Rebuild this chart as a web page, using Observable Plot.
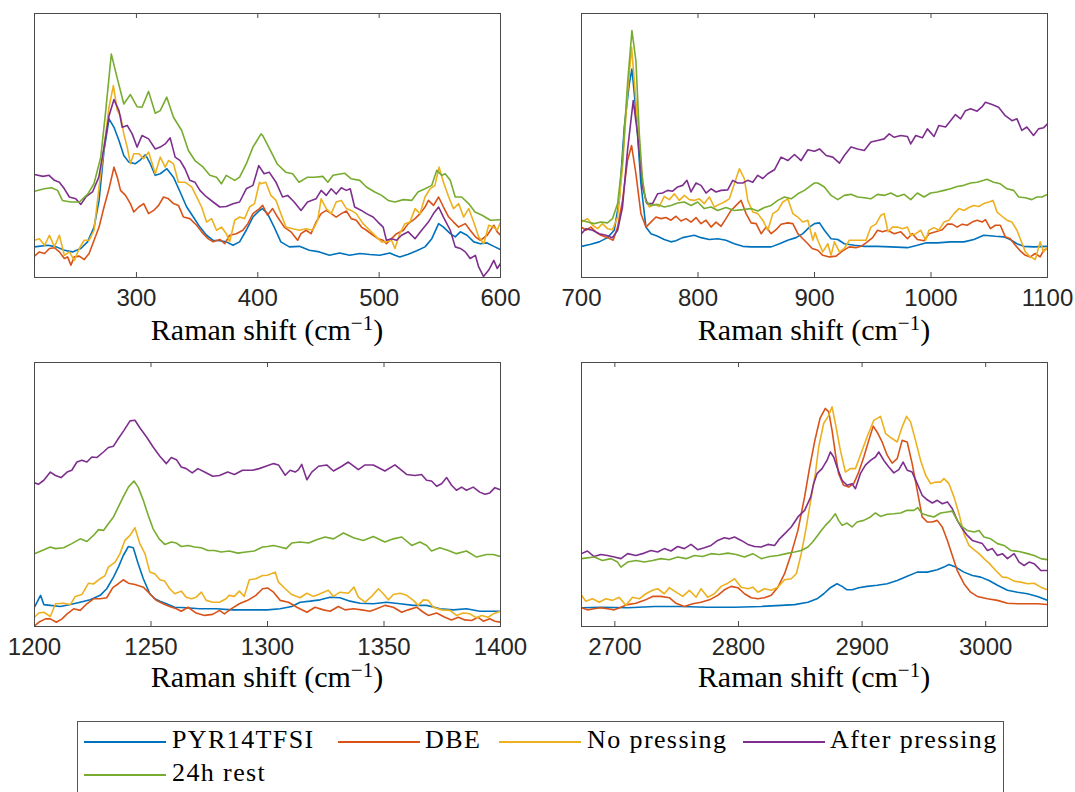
<!DOCTYPE html>
<html>
<head>
<meta charset="utf-8">
<script src="https://cdn.jsdelivr.net/npm/d3@7"></script>
<script src="https://cdn.jsdelivr.net/npm/@observablehq/plot@0.6"></script>
<style>
  html, body { margin: 0; padding: 0; background: #fff; overflow: hidden; }
  #fig { position: relative; width: 1075px; height: 792px; }
  .xtitle { position: absolute; width: 466px; text-align: center; font-family: "Liberation Serif", "Times New Roman", serif;
            font-size: 30px; line-height: 24px; color: #000; white-space: nowrap; }
  .xtitle sup { font-size: 0.7em; line-height: 0; vertical-align: baseline; position: relative; top: -0.48em; }
  #legend { position: absolute; left: 77px; top: 721px; width: 927px; height: 90px;
            border: 1px solid #555; box-sizing: border-box; background: #fff; }
  .swatch { position: absolute; height: 2px; width: 82px; }
  .ltext { position: absolute; font-family: "Liberation Serif", "Times New Roman", serif; font-size: 26px; line-height: 26px;
           letter-spacing: 1.4px; color: #000; white-space: nowrap; }
</style>
</head>
<body>
<div id="fig"></div>
<script>
// Series shared by all four spectral windows (drawing order = stacking order)
const seriesNames = ["PYR14TFSI", "DBE", "No pressing", "After pressing", "24h rest"];
const seriesColors = ["#0072BD", "#D95319", "#EDB120", "#7E2F8E", "#77AC30"];
const axisTitle = "Raman shift (cm<sup>\u22121</sup>)";

// ---- Window 1: 216–600 cm-1, [shift, relative intensity] ----
const w1Domain = [216, 600];
const w1Ticks = [300, 400, 500, 600];
const w1Pyr = [[216,11.6],[227,12.2],[234,11.6],[240.6,10.3],[247.4,9.7],[254.2,11],[259.7,13.5],[265.1,19.1],[269.2,29.2],[273.3,48.1],[277.4,60.1],[281.5,56.9],[285.6,51.9],[289.6,46.2],[293.7,43.7],[299.2,43.1],[303.3,44.6],[307.4,46.5],[311.4,43.1],[315.5,38.7],[319.6,39.3],[325.1,41.2],[330.5,38],[336,32.4],[341.4,26.7],[346.9,22.9],[352.3,19.1],[357.8,16],[363.2,14.1],[368.7,13.9],[374.1,13.5],[379.6,12.2],[385,13.5],[390.5,17.9],[396,22.9],[401.4,25.4],[403.9,26.1],[408,24.2],[413.5,19.1],[419,13.5],[426,11.6],[434.3,11.8],[442.5,10.3],[450.8,9.7],[459,8.4],[467.4,9.3],[475.7,8.4],[484,9.1],[492.3,8.7],[500.5,8.4],[508.8,9.3],[513,8.4],[517,7.8],[524,8.8],[531,10.1],[537.8,11.6],[543.4,14.7],[549,20.4],[553,19.1],[558.6,16.6],[562.7,15.4],[566.9,17.3],[572.4,16],[578,13.5],[583.4,12.8],[589,13.1],[594.5,11.8],[600,10.6]];
const w1Dbe = [[216,8.1],[220,9.7],[224.3,9.1],[228.3,11],[232.4,11.3],[236.5,9.7],[240.6,7.2],[243.3,7.8],[246,4.7],[248.8,7.8],[252.9,8.1],[257,6.8],[261,9.1],[265.1,14.1],[269.2,19.1],[273.3,26.7],[277.4,33.6],[281.5,41.8],[284.2,38],[286.9,33],[291,31.1],[295,28],[297.8,24.8],[301.9,26.7],[306,28],[310,24.2],[314.2,25.4],[318.3,27.3],[322.3,30.5],[326.4,29.8],[330.5,28],[334.6,27.3],[338.7,22.9],[344,22.3],[349.6,19.8],[355,16.6],[359,14.7],[363.2,13.5],[368.7,14.4],[372.8,12.8],[376.8,16],[382.3,16.6],[387.7,17.9],[391.8,20.4],[396,24.2],[401.4,26.1],[404,27.3],[408,23.6],[412.2,26.1],[416.3,22.9],[421.8,19.1],[427.3,17.3],[432.8,14.1],[435.6,16.6],[439.8,17.9],[443.9,16.6],[448,21],[452.2,24.2],[456.4,25.4],[460.5,24.2],[464.6,22.9],[468.8,24.2],[473,25.2],[477,22.3],[481.2,21.7],[485.4,19.1],[489.5,17.9],[495,16],[499.2,14.7],[503.3,14.1],[506,12.8],[510.2,14.7],[514.4,16.6],[520,17.9],[524,20.4],[529.6,22.3],[533.7,24.2],[537.8,26.7],[540.6,29.2],[544.8,27.3],[549,30.5],[553,26.7],[557.3,22.9],[561.3,21],[565.5,19.1],[571,20.4],[575,17.9],[579.3,15.4],[583.4,14.1],[589,16],[594.5,19.8],[597.3,17.3],[600,16]];
const w1NoPress = [[216,14.1],[220,14.7],[224.3,12.2],[228.3,16],[232.4,11.6],[236.5,16],[240.6,8.4],[244.7,9.7],[248.8,6.5],[252.9,11],[257,14.1],[261,14.1],[265.1,17.9],[269.2,34.3],[273.3,49.4],[277.4,64.5],[281,72.7],[284.2,63.2],[286.9,61.3],[289.6,54.4],[292.4,49.4],[295,43.1],[297.8,46.9],[301.9,46.9],[306,45],[310,47.5],[315.5,39.3],[319.6,45.6],[323.7,41.8],[326.4,44.3],[330.5,43.1],[334.6,36.1],[340,36.1],[345.5,34.3],[349.6,30.5],[353.7,26.7],[357.8,21],[361.9,22.3],[366,17.9],[370,19.1],[374.1,16.6],[376.8,13.5],[381,21.7],[385,22.9],[389.1,22.3],[393.2,26.7],[397.3,28],[401.4,36.1],[402.5,35.5],[406.6,36.1],[410.8,31.1],[415,29.2],[419,24.2],[423.2,19.1],[428.7,18.5],[434.3,17.9],[439.8,18.5],[445.3,17.9],[449.4,21.7],[452.2,29.8],[456.4,26.1],[460.5,24.2],[464.6,28.6],[468.8,29.2],[473,26.1],[477,25.4],[481.2,24.2],[486.7,20.4],[492.3,17.9],[497.8,15.4],[502,13.5],[506,13.5],[510.2,14.1],[513,11],[517,16.6],[521.3,20.4],[525.4,21],[529.6,26.1],[533.7,24.2],[537.8,30.5],[542,33.6],[546,34.9],[549.4,41.8],[553,36.1],[557.3,30.5],[561.3,26.1],[565.5,28],[569.6,22.9],[573.8,26.1],[577.9,21],[582,15.4],[586.2,12.8],[590.3,19.8],[594.5,19.1],[597.3,17.9],[600,21]];
const w1After = [[216,39],[223,38.3],[228,38.7],[232.4,36.8],[236.5,36.1],[240.6,33.6],[244.7,30.5],[250,29.8],[254.2,27.7],[258.3,30.5],[263.8,32.4],[269,38],[273.3,49.4],[277.4,61.3],[281.5,67.4],[285.6,63.2],[288.3,56.9],[292.4,57.6],[296.5,54.4],[300.5,49.4],[304.6,53.8],[310,52.5],[315.5,48.7],[319.6,49.4],[323.7,50.6],[327.8,52.9],[331.9,45.6],[336,44.3],[340,41.2],[344,36.8],[348.2,36.1],[352.3,33],[357.8,30.5],[363.2,28.6],[368.7,26.7],[374,26.9],[379.6,27.9],[385,28.6],[390.5,33.6],[396,34.9],[400.8,42.4],[405.2,39.3],[409.4,39.9],[415,36.1],[420.4,30.5],[424.6,31.1],[430,28.6],[435.6,25.4],[441,28.6],[448,29.8],[452.2,33],[456.4,31.1],[460.5,33.6],[464.6,31.6],[468.8,34],[473,33],[476.2,33.6],[479.8,26.7],[485.4,25.4],[489.5,24.2],[495,22.9],[499,21],[503.3,19.1],[506,14.1],[510.2,14.7],[514.4,14.1],[518.5,16],[524,17.3],[529.6,14.7],[535,17.9],[540.6,21],[544.8,24.2],[549,26.7],[553,22.9],[558.6,17.9],[562.7,11.6],[566.9,11],[571,9.7],[575,7.2],[579.3,8.4],[582,4],[586,0.4],[590.3,2.8],[594.5,6.5],[597.3,3.4],[600,5.3]];
const w1Rest = [[216,32.7],[224,33.6],[230,34],[235,33],[239,29.2],[246,28.6],[253,28.6],[260,31.7],[265,35.5],[270.6,45.6],[274.7,63.2],[279.3,84.6],[284,75.8],[289.6,65.7],[295,69.3],[300.5,64.7],[304.6,64.5],[310,70.5],[315.5,62.2],[319.6,63.2],[325,68.3],[330.5,60.7],[337.3,55.7],[342.8,48.1],[348.2,44.3],[355,41.8],[360.5,38.7],[366,38],[370,35.5],[374,38.7],[381,36.8],[385,38],[390.5,43],[396,49.4],[402.7,54.4],[404,53.8],[409,49.4],[416,43],[423,39.9],[428.7,39.3],[434,36.1],[441,38],[446.7,38],[453.6,38.3],[457.7,36.1],[462,38.7],[471.5,39.5],[477,37.4],[484,36.8],[489.5,34.3],[496.4,32.4],[502,31.1],[507.5,29.2],[513,28.6],[520,29.5],[526.8,29.2],[532,32.4],[537.8,33.6],[543.4,34.9],[547.5,40.6],[551.7,38.7],[554.4,39.3],[558.6,36.8],[562.7,30.5],[568,30.5],[573.7,28],[579,24.8],[584.8,23.6],[591.7,21.7],[600,21.9]];

// ---- Window 2: 700–1100 cm-1 ----
const w2Domain = [700, 1100];
const w2Ticks = [700, 800, 900, 1000, 1100];
const w2Pyr = [[700,11.8],[708,12.6],[715.2,13.5],[722.3,15.1],[728.1,17.9],[732.4,29.2],[736.7,56.9],[741,73.3],[743.3,79],[746.7,63.2],[751,35.5],[755.3,19.1],[759.6,16.6],[765.3,15.6],[771,14.4],[776.8,13.5],[781,13.9],[786.8,15.1],[792.6,15.6],[796.8,16],[802.6,15.1],[809.7,14.4],[816.9,14.7],[824,14.1],[831.2,12.8],[838.4,11.8],[845.6,11.6],[854.2,11.6],[862.8,11.6],[870,12.8],[877,14.1],[884.2,15.1],[890,16.6],[895.7,19.1],[900,20.4],[904.3,20.7],[908.5,17.9],[914.2,14.7],[920,14.4],[925.6,12.8],[934.2,12.2],[942.7,11.8],[954.1,11.8],[965.5,11.6],[979.8,11.3],[988.3,12.2],[995.4,13.1],[1005.4,13.1],[1016.8,13.5],[1028.2,13.5],[1036.8,14.4],[1045.3,16],[1055.3,15.6],[1062.4,15.4],[1068,14.4],[1073.8,12.8],[1079.5,11.8],[1088,11.6],[1100,11.8]];
const w2Dbe = [[700,19.1],[703.7,17.9],[708,19.1],[712.3,17.3],[716.6,16],[722.3,15.1],[727.2,14.1],[731,19.1],[735.2,29.2],[739.5,44.3],[743,50],[746.7,39.3],[751,24.2],[755.3,19.1],[759.6,21],[763.9,22.9],[768.2,22.3],[772.5,22.7],[776.8,21.7],[781.1,23.2],[785.4,21.4],[789.7,22.3],[794,21],[798.3,22.7],[802.6,20.4],[806.9,21.7],[811.2,19.1],[815.5,21],[819.8,19.4],[824,22.3],[828.4,25.4],[832.7,27.3],[837,29.2],[841.3,24.2],[845.6,20.7],[849.9,20.4],[854.2,16.6],[858.5,19.1],[862.8,16.6],[867,18.1],[871.3,20.2],[877,20.7],[881.4,20.4],[885.7,16.6],[890,14.7],[894.3,12.8],[898,11],[902.8,10.3],[907.1,8.4],[912.8,7.8],[918.5,8.1],[924.2,10.1],[929.9,11.6],[935.6,11.3],[939.9,11.8],[944.2,13.1],[949.9,15.1],[954.1,17.9],[958.4,17.3],[962.7,17.9],[968.4,16.6],[974.1,17.3],[979.8,14.7],[984,16.6],[988.3,14.4],[994,13.9],[998.3,16.6],[1004,17.3],[1009.7,18.1],[1014,20.2],[1018.2,20.2],[1022.5,19.1],[1026.8,20.2],[1031,19.8],[1035.3,21],[1039.6,21.7],[1043.9,21],[1046.7,21.9],[1051,18.5],[1055.3,19.8],[1059.5,19.8],[1063.8,15.4],[1068,14.7],[1072.4,12.2],[1076.6,10.1],[1081,8.4],[1085.2,7.8],[1089.5,9.1],[1093.7,7.8],[1096.6,10.3],[1100,11]];
const w2NoPress = [[700,21],[705.2,22.3],[709.5,19.8],[713.8,18.5],[718,20.4],[722.3,18.5],[726.6,18.1],[731,22.9],[735.2,41.8],[739,67],[743,87.2],[746.7,67],[750.4,44.3],[754.4,30.5],[758.2,26.7],[762.5,27.7],[766.8,26.9],[771,30.7],[775.4,29.5],[779.7,31.7],[784,29.2],[788.3,31.1],[792.6,29.5],[796.8,29.2],[801.1,29.8],[805.4,28],[809.7,30.5],[814,26.7],[818.3,27.7],[822.6,28.6],[826.9,29.8],[831.2,35.5],[835.5,41.2],[839.8,37.4],[842.7,29.2],[847,24.8],[851.3,24.2],[855.6,21.7],[859.9,17.9],[864.2,24.2],[868.5,25.4],[872.8,28.6],[877.1,29.8],[881.4,24.2],[885.7,22.9],[890,21],[894.3,21.7],[898.6,14.1],[900.5,17],[902.8,14.1],[907.1,9.7],[911.4,12.8],[914.2,8.4],[917.1,13.5],[921.4,9.7],[925.6,11],[929.9,14.1],[934.2,14.1],[939.9,14.1],[944.2,14.1],[948.4,19.1],[952.7,20.2],[957,23.6],[959.8,24.2],[963.2,17.3],[967,19.1],[971.2,19.1],[975.5,18.5],[979.8,19.1],[982.6,16],[986.9,16.6],[991.2,17.9],[995.4,14.1],[998.3,17.9],[1002.6,18.9],[1006.8,17.9],[1011.1,21],[1015.4,21.7],[1019.7,24.2],[1024,26.1],[1028.2,25.4],[1032.5,26.5],[1036.8,27.3],[1041,26.9],[1045.3,28],[1049.6,28.6],[1053.3,29.2],[1056.7,24.8],[1061,23.2],[1065.2,21.7],[1069.5,21],[1073.8,17.9],[1076.6,14.7],[1081,9.7],[1085.2,7.8],[1089.5,6.8],[1093.7,13.5],[1096.6,9.7],[1100,11.6]];
const w2After = [[700,16.6],[703.7,18.5],[709.5,17.9],[715.2,16.6],[720.9,16],[726.6,15.1],[731,17.9],[735.2,26.7],[739.5,48.1],[744.4,67],[748.1,54.4],[752.4,34.3],[756.2,28],[761,28],[765.3,31.7],[769.6,32],[773.9,33],[778.2,32.7],[782.5,34.3],[786.8,34.9],[790.5,36.8],[794,32.4],[798.3,35.8],[802.6,34.9],[806.9,32],[811.2,33.6],[815.5,32.4],[819.8,33],[825.5,33.2],[829.8,36.8],[834.1,35.8],[838.4,35.8],[842.7,36.8],[847,36.1],[851.3,38.7],[855.6,37.5],[859.9,39.3],[865.6,40.8],[871.3,45.6],[877.1,44.3],[882.8,46.6],[888.5,44.3],[894.3,48.4],[900,47.8],[904.3,48.7],[910,46.2],[915.7,45.6],[921.4,43.3],[925.6,46.2],[931.3,49.4],[937,48.7],[942.7,48.1],[948.4,51.3],[954.1,51.9],[959.8,52.5],[964.1,54.4],[968.4,53.1],[974,53.8],[979.8,53.4],[982.6,50.6],[986.9,53.8],[992.6,52.9],[996.9,56.3],[1002.6,53.4],[1006.8,57.6],[1012.5,57],[1016.8,59.4],[1021,61.7],[1025.4,60.1],[1029.6,63.2],[1034,63.9],[1039.6,63],[1043.9,64.7],[1046.7,66.4],[1052.4,65.5],[1058,64.5],[1063.8,61.3],[1069.5,59.4],[1073.8,60.1],[1078,55.7],[1082.3,57],[1088,53.8],[1092.3,56.3],[1096.6,56.7],[1100,58.2]];
const w2Rest = [[700,21.7],[705.2,21],[710.9,20.4],[716.6,21],[722.3,20.7],[726.6,22.3],[731,28],[735.2,44.3],[739.5,73.3],[743.3,93.5],[746.7,82.1],[749.6,54.4],[752.4,36.8],[755.3,28.6],[759.6,27.3],[765.3,27.7],[771,26.7],[776.8,27.3],[782.5,28.2],[788.3,28.6],[794,27.3],[799.7,28.6],[805.4,26.1],[811.2,26.7],[816.9,25.4],[824,26.5],[831.2,25.4],[838.4,25.7],[845.6,26.1],[851.3,25.2],[857,26.5],[862.8,27.3],[868.5,29.2],[874.2,30.5],[880,29.8],[885.7,31.7],[891.4,33],[897.1,34.9],[900,35.8],[902.8,35.8],[908.5,34.3],[914.2,31.1],[920,29.5],[925.6,31.1],[931.3,31.5],[937,30.5],[942.7,30.2],[948.4,29.8],[954.1,31.5],[959.8,31.1],[965.5,32],[971.2,30.7],[977,31.5],[982.6,29.5],[988.3,32],[994,30.5],[999.7,32],[1005.4,32.4],[1011.1,33],[1016.8,33.6],[1022.5,34.5],[1028.2,34.9],[1034,35.8],[1039.6,36.1],[1045.3,36.8],[1048.1,37.2],[1053.8,36.1],[1059.5,35.5],[1065.2,33.6],[1071,33],[1075.2,30.5],[1081,30.2],[1086.6,29.5],[1090.9,30.5],[1095.2,30.5],[1100,31.5]];

// ---- Window 3: 1200–1400 cm-1 ----
const w3Domain = [1200, 1400];
const w3Ticks = [1200, 1250, 1300, 1350, 1400];
const w3Pyr = [[1200,7.3],[1201.1,9.2],[1202.6,11.8],[1204,8.3],[1206.8,8],[1211.1,7.6],[1215.4,8.3],[1219.6,9.2],[1223.9,10.1],[1228.2,11.8],[1231,14.3],[1233.9,18.7],[1236,22.5],[1238.1,26.9],[1240.3,30.3],[1242.4,29.8],[1244.5,23.8],[1246.7,18.1],[1249.5,12.4],[1251.6,10.5],[1253.8,9.6],[1256.6,8.6],[1260.2,7.3],[1265.1,7.1],[1270.8,6.7],[1278,6.7],[1285,6.3],[1292.2,6.3],[1300,6.3],[1305.4,6.7],[1310.4,7.6],[1314,9.2],[1318.3,9.6],[1322.6,10.1],[1326.9,11.1],[1331.1,10.9],[1335.4,9.6],[1339.7,8.8],[1345.4,8.6],[1351.1,9.2],[1356.9,8.6],[1362.6,8],[1368.3,8],[1374,6.7],[1379.7,6.3],[1385.4,6.7],[1391.1,5.8],[1396.9,5.8],[1400,5.8]];
const w3Dbe = [[1200,0.2],[1201.8,1.6],[1204.7,2.9],[1206.8,2.9],[1209.4,1.6],[1211.8,2.9],[1214,4.8],[1216.8,6.7],[1219.6,6.1],[1222.5,8.6],[1225.3,10.5],[1228.2,10.5],[1231,10.9],[1233.6,14.7],[1236,16.2],[1238.1,17.7],[1240.3,16.4],[1243.1,15.9],[1246.7,14.9],[1249.5,12.4],[1252.3,9.9],[1255.2,8.6],[1258,7.6],[1260.9,6.7],[1263,5.8],[1265.9,7.3],[1269.4,5.1],[1273,4.2],[1276.5,4.6],[1279.4,6.1],[1281.5,4.8],[1284.4,6.7],[1287.9,8.6],[1291.5,9.9],[1295,11.8],[1297.9,14.3],[1300,14.6],[1302.6,13],[1305.4,9.9],[1309,9.2],[1312.6,7.3],[1316.9,5.4],[1320.4,7.3],[1324,6.3],[1326.9,5.8],[1330.4,7.6],[1333.3,6.3],[1336.9,6.7],[1340.4,6.3],[1344,5.8],[1346.9,6.7],[1350.4,8],[1354,7.3],[1357.6,5.4],[1360.4,6.3],[1364,7.3],[1366.9,5.4],[1369,4.2],[1372.6,5.1],[1376.1,3.5],[1379,2.5],[1381.9,3.5],[1384.7,2.5],[1387.6,2.3],[1390.4,3.5],[1392.6,2],[1395.4,2.9],[1397.6,2],[1400,1.6]];
const w3NoPress = [[1200,3.5],[1201.8,5.1],[1204,5.4],[1206.8,3.8],[1209,8.6],[1212.5,8.8],[1215.4,8.3],[1217.5,11.4],[1220.3,12.1],[1223.2,16.4],[1225.3,16.1],[1228.2,18.1],[1230.3,19.3],[1231.7,22.5],[1234.6,24.4],[1236.7,27.6],[1238.8,32.6],[1241,34.5],[1243.1,37.4],[1245.2,31.4],[1247.4,27.6],[1249.5,20.6],[1251.6,20],[1253.8,17.7],[1255.9,17.2],[1258,14.3],[1260.2,12.4],[1263,13.4],[1265.1,11.1],[1267.3,10.5],[1269.4,11.1],[1271.6,13],[1273.7,9.9],[1276.5,9.2],[1279.4,9.2],[1282.2,10.5],[1283.6,11.8],[1285.8,11.4],[1287.9,13.4],[1290,11.4],[1292.2,17.7],[1295,18.1],[1297.9,19.3],[1300,19.4],[1303.3,20.6],[1304.7,16.8],[1307.6,14.3],[1310.4,12.1],[1314,10.9],[1316.9,12.6],[1319.7,11.4],[1322.6,12.4],[1326.1,13.7],[1328.3,11.4],[1331.1,13],[1334.7,12.6],[1337.1,14.9],[1339,11.1],[1341.9,9.2],[1344.7,11.4],[1347.6,14.3],[1349.7,12.4],[1351.9,10.1],[1354,12.1],[1356.9,12.6],[1359.7,11.8],[1362.6,9.9],[1364.7,8],[1366.9,10.1],[1369,9.9],[1371.1,7.3],[1374.7,6.3],[1378.3,6.1],[1381.1,4.2],[1384,5.1],[1386.9,4.8],[1389.7,3.3],[1391.9,4.2],[1394.7,3.5],[1396.9,4.8],[1400,5.8]];
const w3After = [[1200,54.4],[1201.8,53.9],[1204,55.4],[1206.8,58.5],[1209,57.2],[1211.4,56.4],[1214,58.5],[1216,59.2],[1218.2,62.3],[1220.3,63],[1222.5,62.3],[1224.6,64.2],[1226.7,64],[1229.6,66.1],[1231.7,67.8],[1233.9,68.3],[1236,71.2],[1238.4,74.3],[1241,77.9],[1243.1,78.1],[1245.2,75.3],[1248.1,71.8],[1250.9,68],[1253.8,64.5],[1256.6,61.7],[1258.7,64],[1260.9,63.2],[1263,60.4],[1265.1,59.8],[1267.7,58.2],[1270.1,59.8],[1273,58.5],[1276.5,56.9],[1279.4,57.2],[1282.9,58.5],[1285.8,57.6],[1289.3,59.2],[1293.6,59.2],[1296.4,59.8],[1299.3,60.7],[1302.6,61.7],[1304.7,61.2],[1307.6,57.3],[1309.7,59.2],[1311.9,58.5],[1313.3,59.4],[1314.7,61.4],[1316.9,55.6],[1319,58.5],[1321.9,60.7],[1325.4,61.2],[1328.3,58.9],[1331.9,60.7],[1334.7,62.3],[1339,59.4],[1341.9,61.2],[1345.4,61.2],[1350.4,58.9],[1354.7,61.2],[1359.7,57.6],[1363.3,57.2],[1366.1,57.6],[1368.3,55.4],[1370.4,55.1],[1372.6,53.1],[1374.7,54.1],[1376.9,56.4],[1379,53.5],[1381.1,51.6],[1383.3,52.8],[1385.4,51.6],[1388.3,52.8],[1391.1,50.9],[1393.3,50.1],[1395.4,50.6],[1397.6,52.6],[1400,51.8]];
const w3Rest = [[1200,27.6],[1203.3,28.8],[1206.8,30.1],[1209,29.5],[1212.5,29.8],[1216,31.4],[1219.6,33.2],[1222.5,32.2],[1225.3,34.5],[1227.5,36.7],[1229.6,36.4],[1231.7,38.9],[1233.9,41.5],[1236,45.3],[1238.1,49.1],[1240.3,52.8],[1242.7,55.1],[1244.5,52.8],[1246.7,47.8],[1248.8,42.1],[1250.9,37],[1253.5,33.2],[1255.9,31.1],[1258.7,32],[1260.9,31.6],[1263,30.3],[1265.9,30.7],[1268.7,30.1],[1271.6,29.8],[1274.4,28.8],[1277.2,28.8],[1280.1,28.2],[1283.6,28.6],[1287.2,27.8],[1290.8,28.2],[1294.3,28.6],[1297.9,30.1],[1300,30.3],[1302.6,30.7],[1305.4,30.1],[1308,29.5],[1310.4,31.6],[1314,32],[1317.6,31.6],[1321.1,32.9],[1324.7,33.9],[1328.3,33.2],[1332.6,35.4],[1336.9,33.6],[1341.1,32.6],[1345.4,34.1],[1350.4,32],[1354,33.2],[1357.6,33.9],[1361.9,30.7],[1365.4,32],[1368.3,30.7],[1370.4,28.6],[1374,29.8],[1377.6,28.8],[1381.1,27.6],[1385.4,28.6],[1389.7,26.3],[1394,27.3],[1396.9,27.3],[1400,26.5]];

// ---- Window 4: 2673–3050 cm-1 ----
const w4Domain = [2673, 3050];
const w4Ticks = [2700, 2800, 2900, 3000];
const w4Pyr = [[2673,7.1],[2688.6,7.3],[2710.3,7.1],[2732,7.6],[2753.5,7.6],[2775,7.3],[2796.8,7.3],[2818.4,7.6],[2834.6,8],[2845.4,8.3],[2856.2,9.2],[2863.5,10.5],[2869,12.4],[2874.3,14.7],[2879.7,16.2],[2883.8,15.2],[2887.8,13.9],[2892,13.9],[2897.3,14.7],[2904,15.2],[2912.2,15.6],[2920.3,16.2],[2928.4,17.4],[2936.5,19],[2944.6,20.6],[2952.7,20.6],[2960.8,21.5],[2966.2,22.5],[2970.3,23.5],[2975.7,22.5],[2982.4,20.6],[2989.2,19.3],[2996,18.7],[3002.7,17.4],[3009.5,15.6],[3017.6,13.7],[3025.7,13],[3033.8,12.4],[3041.9,11.4],[3050,9.9]];
const w4Dbe = [[2673,7.1],[2677.8,6.3],[2683.2,6.7],[2688.6,7.1],[2694,6.7],[2699.5,6.3],[2704.9,7.3],[2710.3,8.3],[2717,8.8],[2723.8,9.9],[2730.5,11.4],[2737.3,11.4],[2744,10.9],[2749.5,8.8],[2756.2,7.6],[2763,8.6],[2769.7,9.2],[2776.5,10.1],[2783.2,11.8],[2788.6,13.9],[2794,15.2],[2799.5,14.7],[2804.9,12.4],[2810.3,10.9],[2815.7,10.5],[2821,10.9],[2826.5,11.8],[2831.9,14.9],[2837.3,20],[2842.7,27.6],[2848.1,36.4],[2853.5,49.1],[2857.6,60.4],[2861.8,70.5],[2866,78.9],[2870.3,82.6],[2873,81.3],[2875.7,74.3],[2878.4,65.5],[2881,57.9],[2885,53.5],[2889.2,52.8],[2893.2,54.1],[2897.3,58.5],[2901.4,64.2],[2905.4,70.5],[2909,75.9],[2912.2,73.6],[2916.2,69.9],[2920.3,64.9],[2924.3,61.9],[2928.4,63.6],[2932.4,70.5],[2936.5,69.9],[2940.5,61.7],[2944.6,51.6],[2948.6,41.5],[2952.7,39.6],[2956.8,39.6],[2960.8,40.2],[2964.9,37.7],[2969,32.6],[2973,26.9],[2977,21.2],[2982.4,16.2],[2987.8,13],[2993.2,11.4],[3001.4,10.5],[3009.5,9.9],[3017.6,8.8],[3025.7,8.6],[3033.8,8.6],[3041.9,8.6],[3050,8.3]];
const w4NoPress = [[2673,11.8],[2676.5,9.6],[2681.9,10.5],[2687.3,9.2],[2692.7,10.5],[2698.1,9.9],[2703.5,11.1],[2708.9,8],[2714.3,11.1],[2719.7,10.5],[2725.1,12.4],[2730.5,13.7],[2734.6,14.3],[2740,12.4],[2744,14.7],[2749.5,13],[2754.9,11.4],[2760.3,13.7],[2765.7,11.1],[2769.7,14.3],[2775.1,11.1],[2780.5,12.4],[2786,15.2],[2791.4,16.4],[2796.8,18.1],[2802.2,14.9],[2807.6,14.3],[2811.6,14.9],[2815.7,13],[2821,14.3],[2826.5,13.7],[2831.9,14.9],[2837.3,17.7],[2842.7,18.1],[2846.8,20],[2850.8,27.6],[2854.9,37.7],[2858.5,48],[2862.2,57.9],[2864.9,68],[2868.9,76.9],[2873,80],[2875.7,83.2],[2878.4,76.9],[2882.4,66.8],[2886.5,58.5],[2890.5,59.8],[2894.6,59.8],[2898.6,64.9],[2904,71.8],[2909.5,78.1],[2914.9,79.6],[2919,73.1],[2924.3,71.2],[2928.4,69.9],[2932.4,75.6],[2936,79.6],[2939.2,77.5],[2943.2,70.5],[2947.3,63],[2951.4,57.3],[2955.4,54.1],[2959.5,54.7],[2963.5,54.7],[2966.2,56],[2970.3,54.1],[2974.3,49.1],[2978.4,42.7],[2982.4,35.1],[2986.5,30.7],[2990.5,29.1],[2994.6,27.6],[2998.6,25.7],[3002.7,24],[3008.1,21.2],[3013.5,18.7],[3017.6,18.5],[3023,17.2],[3028.4,16.8],[3033.8,16.2],[3039.2,16.4],[3044.6,14.9],[3050,13.9]];
const w4After = [[2673,27.6],[2677.8,28.6],[2683.2,26.5],[2688.6,27.3],[2694,26.9],[2699.5,26.3],[2704.9,25.7],[2710.3,27.6],[2717,26.9],[2723.8,27.8],[2729.2,28.8],[2734.6,28.2],[2740,29.5],[2745.4,28.6],[2750.8,30.3],[2756.2,29.5],[2761.6,31.1],[2767,29.1],[2772.4,29.8],[2777.8,30.7],[2783.2,32.6],[2788.6,33.6],[2792.7,33.2],[2796.8,33.9],[2802.2,32.6],[2807.6,31.1],[2813,30.3],[2818.4,30.1],[2823.8,31.1],[2829.2,30.7],[2833.2,33.2],[2837.3,35.1],[2842.7,37.7],[2848.1,41.5],[2853.5,44],[2858.4,49],[2860.8,54.1],[2863.5,57.9],[2867.6,59.8],[2871.6,62.9],[2874.3,66.1],[2877,64.2],[2879.7,60.4],[2883.8,55.4],[2887.8,53.5],[2891.9,54.1],[2894.6,52.2],[2898.6,57.9],[2902.7,61.1],[2906.8,62.9],[2910.8,64.2],[2913.5,66.1],[2917.6,62.9],[2921.6,60.4],[2925.7,58.2],[2929.7,59.4],[2933.2,62.3],[2936.5,59.2],[2940.5,58.5],[2944.6,54.1],[2948.6,49.7],[2952.7,48],[2956.8,46.8],[2960.8,47.8],[2964.9,46.5],[2969,47.2],[2973,44.6],[2977,40.2],[2981.1,37],[2985.1,34.5],[2989.2,32.6],[2993.2,32],[2997.3,31.4],[3001.4,28.8],[3005.4,29.5],[3009.5,26.9],[3013.5,27.6],[3017.6,25.7],[3023,27.6],[3027,24.4],[3031.1,23.1],[3035.1,24.4],[3039.2,23.8],[3044.6,21.2],[3050,21.2]];
const w4Rest = [[2673,25.7],[2677.8,26],[2683.2,26.3],[2690,25],[2696.8,25.7],[2702.2,24.4],[2704.9,22.5],[2710.3,24.4],[2717,25],[2723.8,24.4],[2730.5,25],[2737.3,25.7],[2744,25.3],[2750.8,26.3],[2757.6,25.7],[2764.3,26.9],[2771,26.5],[2777.8,27.6],[2784.6,27.3],[2791.4,27.8],[2798.1,27.3],[2804.9,26.3],[2811.6,27.6],[2818.4,25.7],[2825.1,26.5],[2831.9,26.9],[2838.6,27.6],[2845.4,28.2],[2850.8,28.8],[2856.2,30.1],[2860,32],[2864,34.5],[2867,36.4],[2870.3,38.3],[2874.3,40.2],[2878.4,42.7],[2881,40.2],[2883.8,38.3],[2887.8,39.2],[2891.9,37.7],[2895.9,39.6],[2901.4,40.2],[2906.8,41.5],[2910.8,43],[2914.9,41.7],[2920.3,42.5],[2925.7,42.7],[2931.1,43],[2936.5,44],[2941.9,44],[2945.1,45],[2948.6,42.7],[2952.7,42.1],[2958.1,41.5],[2963.5,43],[2969,43.4],[2973,43.7],[2977,40.2],[2981.1,37.7],[2985.1,36.4],[2990.5,35.8],[2994.6,36.4],[2998.6,33.9],[3004,33.2],[3009.5,31.4],[3014.9,30.7],[3020.3,28.8],[3027,28.4],[3033.8,27.6],[3039.2,26.9],[3044.6,25.7],[3050,25.3]];

const windows = [
  {domain: w1Domain, ticks: w1Ticks, series: [w1Pyr, w1Dbe, w1NoPress, w1After, w1Rest], left: 34, top: 13, pad: 11, titleTop: 318},
  {domain: w2Domain, ticks: w2Ticks, series: [w2Pyr, w2Dbe, w2NoPress, w2After, w2Rest], left: 581, top: 13, pad: 11, titleTop: 318},
  {domain: w3Domain, ticks: w3Ticks, series: [w3Pyr, w3Dbe, w3NoPress, w3After, w3Rest], left: 34, top: 362, pad: 11, titleTop: 665},
  {domain: w4Domain, ticks: w4Ticks, series: [w4Pyr, w4Dbe, w4NoPress, w4After, w4Rest], left: 581, top: 362, pad: 11, titleTop: 665}
];

const fig = document.getElementById("fig");
const innerW = 466, innerH = 264;
const mL = 40, mR = 40, mT = 10, mB = 40;
const boxColor = "#4a4a4a";

for (const w of windows) {
  const marks = w.series.map((pts, i) =>
    Plot.line(pts, {x: d => d[0], y: d => d[1], stroke: seriesColors[i], strokeWidth: 1.6,
                    strokeLinejoin: "round", clip: true}));
  marks.push(
    // inward ticks on bottom and top edges
    Plot.ruleX(w.ticks, {stroke: boxColor, strokeWidth: 1, insetTop: innerH - 5}),
    Plot.ruleX(w.ticks, {stroke: boxColor, strokeWidth: 1, insetBottom: innerH - 5}),
    Plot.frame({stroke: boxColor, strokeWidth: 1}),
    Plot.axisX(w.ticks, {anchor: "bottom", tickSize: 0, tickPadding: w.pad, tickFormat: d => String(d),
                         fontSize: 24, fill: "#262626"})
  );
  const svg = Plot.plot({
    width: innerW + mL + mR,
    height: innerH + mT + mB,
    marginLeft: mL, marginRight: mR, marginTop: mT, marginBottom: mB,
    x: {domain: w.domain},
    y: {domain: [0, 100], axis: null},
    style: {fontFamily: "'Liberation Sans', Arial, sans-serif", fontSize: "24px", background: "transparent", overflow: "visible"},
    marks
  });
  svg.style.position = "absolute";
  svg.style.left = (w.left - mL) + "px";
  svg.style.top = (w.top - mT) + "px";
  fig.appendChild(svg);

  const t = document.createElement("div");
  t.className = "xtitle";
  t.innerHTML = axisTitle;
  t.style.left = w.left + "px";
  t.style.top = w.titleTop + "px";
  fig.appendChild(t);
}

// Legend
const legend = document.createElement("div");
legend.id = "legend";
fig.appendChild(legend);
const legendPos = [
  {sx: 84, tx: 172, y: 742},
  {sx: 338, tx: 425, y: 742},
  {sx: 499, tx: 587, y: 742},
  {sx: 743, tx: 830, y: 742},
  {sx: 84, tx: 172, y: 775}
];
seriesNames.forEach((name, i) => {
  const p = legendPos[i];
  const sw = document.createElement("div");
  sw.className = "swatch";
  sw.style.background = seriesColors[i];
  sw.style.left = (p.sx - 78) + "px";
  sw.style.top = (p.y - 1 - 722) + "px";
  legend.appendChild(sw);
  const tx = document.createElement("div");
  tx.className = "ltext";
  tx.textContent = name;
  tx.style.left = (p.tx - 78) + "px";
  tx.style.top = (p.y - 15 - 722) + "px";
  legend.appendChild(tx);
});
</script>
</body>
</html>
